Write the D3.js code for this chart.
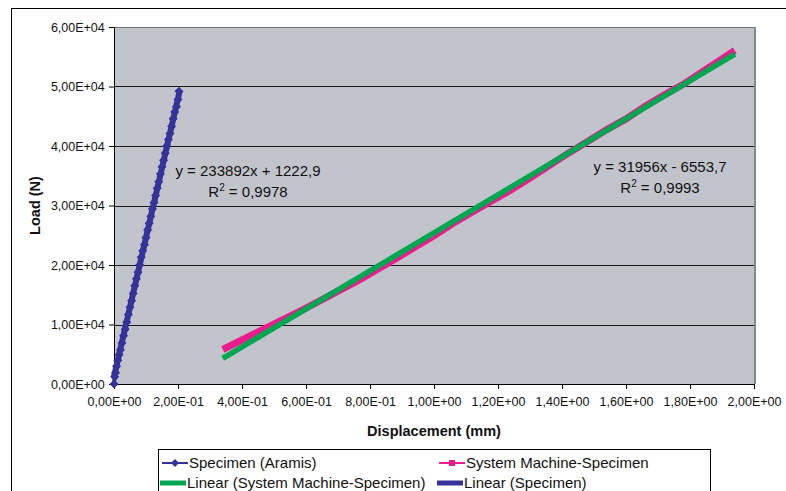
<!DOCTYPE html>
<html>
<head>
<meta charset="utf-8">
<script src="https://cdn.jsdelivr.net/npm/d3@7"></script>
<style>
  body { margin: 0; background: #fff; }
  text { font-family: "Liberation Sans", Arial, sans-serif; fill: #111; }
</style>
</head>
<body>
<div id="chart"></div>
<script>
var svgWidth = 786;
var svgHeight = 491;

var margin = { top: 27, right: 32, bottom: 107, left: 114 };
var width = svgWidth - margin.left - margin.right;
var height = svgHeight - margin.top - margin.bottom;

// Specimen (Aramis)
var aramisX = [0, 0.002, 0.005, 0.008, 0.012, 0.016, 0.02, 0.025, 0.03, 0.035, 0.04, 0.045, 0.05, 0.055, 0.06, 0.065, 0.07, 0.075, 0.08, 0.085, 0.09, 0.095, 0.1, 0.105, 0.11, 0.115, 0.12, 0.125, 0.13, 0.135, 0.14, 0.145, 0.15, 0.155, 0.16, 0.165, 0.17, 0.175, 0.18, 0.185, 0.19, 0.195, 0.2, 0.203];
var aramisY = [0, 1200, 1900, 3000, 4000, 4900, 5700, 6900, 8100, 9200, 10400, 11700, 12900, 14000, 15200, 16500, 17700, 18800, 20000, 21300, 22400, 23400, 24600, 25900, 27000, 28200, 29400, 30500, 31700, 32900, 34000, 35300, 36500, 37600, 38800, 40000, 41100, 42100, 43300, 44600, 45700, 46600, 47800, 49200];

// System Machine-Specimen
var machineX = [0.34, 0.4, 0.46, 0.52, 0.58, 0.64, 0.7, 0.76, 0.82, 0.88, 0.94, 1.0, 1.06, 1.12, 1.18, 1.24, 1.3, 1.36, 1.42, 1.48, 1.54, 1.6, 1.66, 1.72, 1.78, 1.84, 1.9, 1.94];
var machineY = [5800, 7400, 9000, 10600, 12200, 13900, 15600, 17300, 19150, 21050, 22980, 24900, 27000, 28900, 30750, 32600, 34600, 36700, 38800, 40750, 42750, 44550, 46700, 48600, 50400, 52550, 54650, 56050];

// trendlines as printed on the chart
var specTrend = { slope: 233892, intercept: 1222.9, x0: 0, x1: 0.205, eq: "y = 233892x + 1222,9", r2: "0,9978" };
var machTrend = { slope: 31956, intercept: -6553.7, x0: 0.34, x1: 1.94, eq: "y = 31956x - 6553,7", r2: "0,9993" };

var xTicks = [0, 0.2, 0.4, 0.6, 0.8, 1.0, 1.2, 1.4, 1.6, 1.8, 2.0];
var xTickLabels = ["0,00E+00", "2,00E-01", "4,00E-01", "6,00E-01", "8,00E-01", "1,00E+00", "1,20E+00", "1,40E+00", "1,60E+00", "1,80E+00", "2,00E+00"];
var yTicks = [0, 10000, 20000, 30000, 40000, 50000, 60000];
var yTickLabels = ["0,00E+00", "1,00E+04", "2,00E+04", "3,00E+04", "4,00E+04", "5,00E+04", "6,00E+04"];

var svg = d3.select("#chart")
  .append("svg")
  .attr("width", svgWidth)
  .attr("height", svgHeight);

// outer chart border
svg.append("rect")
  .attr("x", 11.5).attr("y", 8.5)
  .attr("width", 800).attr("height", 500)
  .attr("fill", "#fff").attr("stroke", "#000");

var chartGroup = svg.append("g")
  .attr("transform", `translate(${margin.left}, ${margin.top})`);

var x = d3.scaleLinear().domain([0, 2]).range([0, width]);
var y = d3.scaleLinear().domain([0, 60000]).range([height, 0]);

// plot area
chartGroup.append("rect")
  .attr("width", width).attr("height", height)
  .attr("fill", "#c2c4cb");

// grid
chartGroup.selectAll(".grid")
  .data(yTicks.slice(1))
  .enter().append("line")
  .attr("x1", 0).attr("x2", width)
  .attr("y1", d => Math.round(y(d)) + 0.5).attr("y2", d => Math.round(y(d)) + 0.5)
  .attr("stroke", d => d === 60000 ? "#6f7378" : "#1a1a1a");

// grey frame right
chartGroup.append("line")
  .attr("x1", width + 1).attr("x2", width + 1)
  .attr("y1", 0).attr("y2", height)
  .attr("stroke", "#858a92").attr("stroke-width", 2);

// axes
var bottomAxis = d3.axisBottom(x).tickValues(xTicks).tickSize(5).tickSizeOuter(0)
  .tickFormat((d, i) => xTickLabels[i]);
var leftAxis = d3.axisLeft(y).tickValues(yTicks).tickSize(5).tickSizeOuter(0)
  .tickFormat((d, i) => yTickLabels[i]);

var gx = chartGroup.append("g")
  .attr("transform", `translate(0, ${height})`)
  .call(bottomAxis);
var gy = chartGroup.append("g").call(leftAxis);

[gx, gy].forEach(function(g) {
  g.selectAll("path, line").attr("stroke", "#000");
  g.selectAll("text").attr("font-size", 12.5).attr("font-family", "Liberation Sans, Arial, sans-serif").attr("fill", "#111");
});
gx.selectAll("text").attr("dy", "1.15em");
gy.selectAll("text").attr("dx", "-0.1em");

// series lines
var line = d3.line().x(d => x(d[0])).y(d => y(d[1]));

var machineData = machineX.map((d, i) => [d, machineY[i]]);
var aramisData = aramisX.map((d, i) => [d, aramisY[i]]);

chartGroup.append("path")
  .datum(machineData)
  .attr("d", line)
  .attr("fill", "none").attr("stroke", "#e91e8c").attr("stroke-width", 7);

function trendPts(t) {
  return [[t.x0, t.slope * t.x0 + t.intercept], [t.x1, t.slope * t.x1 + t.intercept]];
}

chartGroup.append("path")
  .datum(trendPts(machTrend))
  .attr("d", line)
  .attr("fill", "none").attr("stroke", "#00a651").attr("stroke-width", 5.5);

chartGroup.append("path")
  .datum(aramisData)
  .attr("d", line)
  .attr("fill", "none").attr("stroke", "#333399").attr("stroke-width", 4);

chartGroup.selectAll(".diam")
  .data(aramisData)
  .enter().append("path")
  .attr("transform", d => `translate(${x(d[0])},${y(d[1])}) rotate(45)`)
  .attr("d", "M-3.2,-3.2H3.2V3.2H-3.2Z")
  .attr("fill", "#333399");

chartGroup.append("path")
  .datum(trendPts(specTrend))
  .attr("d", line)
  .attr("fill", "none").attr("stroke", "#333399").attr("stroke-width", 6);

// equation labels
function eqLabel(t, cx, yy) {
  var g = chartGroup.append("g");
  g.append("text").attr("x", cx).attr("y", yy).attr("text-anchor", "middle")
    .attr("font-size", 15).text(t.eq);
  var r = g.append("text").attr("x", cx).attr("y", yy + 21).attr("text-anchor", "middle")
    .attr("font-size", 15);
  r.append("tspan").text("R");
  r.append("tspan").attr("dy", -6).attr("font-size", 10).text("2");
  r.append("tspan").attr("dy", 6).text(" = " + t.r2);
}
eqLabel(specTrend, 134, 149);
eqLabel(machTrend, 546, 145);

// axis titles
svg.append("text")
  .attr("x", margin.left + width / 2).attr("y", 436)
  .attr("text-anchor", "middle").attr("font-size", 14.5).attr("font-weight", "bold")
  .text("Displacement (mm)");

svg.append("text")
  .attr("transform", `translate(40, ${margin.top + height / 2}) rotate(-90)`)
  .attr("text-anchor", "middle").attr("font-size", 14.5).attr("font-weight", "bold")
  .text("Load (N)");

// legend
var legend = svg.append("g");
legend.append("rect")
  .attr("x", 158.5).attr("y", 449.5).attr("width", 552).attr("height", 60)
  .attr("fill", "#fff").attr("stroke", "#000");

var legendItems = [
  { label: "Specimen (Aramis)", color: "#333399", w: 2, marker: "diamond", lx: 162, ly: 463 },
  { label: "System Machine-Specimen", color: "#e91e8c", w: 2, marker: "square", lx: 439, ly: 463 },
  { label: "Linear (System Machine-Specimen)", color: "#00a651", w: 5, marker: null, lx: 160, ly: 483 },
  { label: "Linear (Specimen)", color: "#333399", w: 5, marker: null, lx: 437, ly: 483 }
];

legendItems.forEach(function(it) {
  legend.append("line")
    .attr("x1", it.lx).attr("x2", it.lx + 26)
    .attr("y1", it.ly).attr("y2", it.ly)
    .attr("stroke", it.color).attr("stroke-width", it.w);
  if (it.marker === "diamond") {
    legend.append("path")
      .attr("transform", `translate(${it.lx + 13},${it.ly}) rotate(45)`)
      .attr("d", "M-2.8,-2.8H2.8V2.8H-2.8Z").attr("fill", it.color);
  } else if (it.marker === "square") {
    legend.append("rect")
      .attr("x", it.lx + 10).attr("y", it.ly - 3).attr("width", 6).attr("height", 6)
      .attr("fill", it.color);
  }
  legend.append("text")
    .attr("x", it.lx + 27).attr("y", it.ly + 5)
    .attr("font-size", 15).text(it.label);
});
</script>
</body>
</html>
